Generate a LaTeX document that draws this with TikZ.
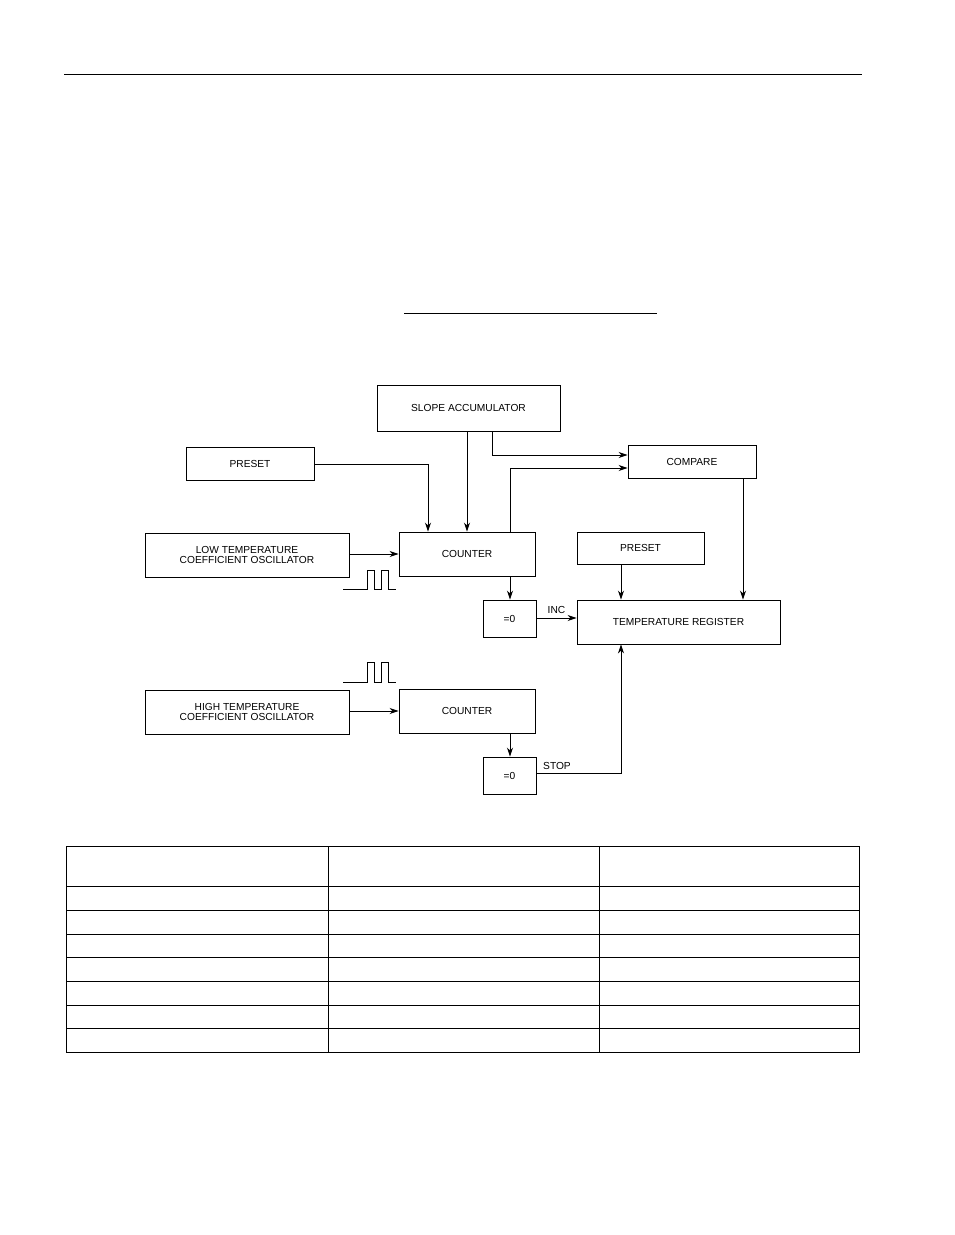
\documentclass[tikz,border=0pt]{standalone}
\usepackage{fontspec}
\setmainfont{Liberation Sans}
\usetikzlibrary{arrows.meta}
\begin{document}
\begin{tikzpicture}[x=1pt,y=-1pt,line width=0.9pt,
  blk/.style={draw,font=\fontsize{10.2}{10}\selectfont,align=center},
  arr/.style={-{Stealth[length=9pt,width=6pt]}},
  lbl/.style={font=\fontsize{10.2}{10}\selectfont}]
\useasboundingbox (0,0) rectangle (954,1235);
\draw (64,74) -- (862,74);
\draw (404,313) -- (657,313);
\newcommand{\bx}[6]{\node[blk,minimum width=#4-#2,minimum height=#5-#3,inner sep=0pt] (#1) at ({(#2+#4)/2},{(#3+#5)/2}) {#6};}
\bx{slope}{377}{385}{560}{431}{SLOPE ACCUMULATOR}
\bx{pre1}{186}{447}{314}{480}{PRESET}
\bx{cmp}{628}{445}{756}{478}{COMPARE}
\bx{low}{145}{533}{349}{577}{LOW TEMPERATURE\\COEFFICIENT OSCILLATOR}
\bx{cnt1}{399}{532}{535}{576}{COUNTER}
\bx{pre2}{577}{532}{704}{564}{PRESET}
\bx{z1}{483}{600}{536}{637}{=0}
\bx{treg}{577}{600}{780}{644}{TEMPERATURE REGISTER}
\bx{high}{145}{690}{349}{734}{HIGH TEMPERATURE\\COEFFICIENT OSCILLATOR}
\bx{cnt2}{399}{689}{535}{733}{COUNTER}
\bx{z2}{483}{757}{536}{794}{=0}
\draw[arr] (pre1.east |- 0,464) -| (428,0 |- cnt1.north);
\draw[arr] (467,0 |- slope.south) -- (467,0 |- cnt1.north);
\draw[arr] (492,0 |- slope.south) |- (cmp.west |- 0,455);
\draw[arr] (510,0 |- cnt1.north) |- (cmp.west |- 0,468);
\draw[arr] (743,0 |- cmp.south) -- (743,0 |- treg.north);
\draw[arr] (621,0 |- pre2.south) -- (621,0 |- treg.north);
\draw[arr] (low.east |- 0,554) -- (cnt1.west |- 0,554);
\draw[arr] (510,0 |- cnt1.south) -- (510,0 |- z1.north);
\draw[arr] (z1.east |- 0,618) -- (treg.west |- 0,618) node[lbl,pos=0.5,above=1pt] {INC};
\draw[arr] (high.east |- 0,711) -- (cnt2.west |- 0,711);
\draw[arr] (510,0 |- cnt2.south) -- (510,0 |- z2.north);
\coordinate (corner) at (621,773);
\draw[arr] (z2.east |- 0,773) -- (corner) -- (621,0 |- treg.south);
\node[lbl] at (557,766) {STOP};
\draw[line width=0.9pt] (343,589) -- (367,589) -- (367,570) -- (374,570) -- (374,589) -- (381,589) -- (381,570) -- (388,570) -- (388,589) -- (396,589);
\draw[line width=0.9pt] (343,682) -- (367,682) -- (367,662) -- (374,662) -- (374,682) -- (381,682) -- (381,662) -- (388,662) -- (388,682) -- (396,682);
\draw[line width=0.7pt] (66,846) rectangle (859,1052);
\foreach \x in {328,599} \draw[line width=0.7pt] (\x,846) -- (\x,1052);
\foreach \y in {886,910,934,957,981,1005,1028} \draw[line width=0.7pt] (66,\y) -- (859,\y);
\end{tikzpicture}
\end{document}
